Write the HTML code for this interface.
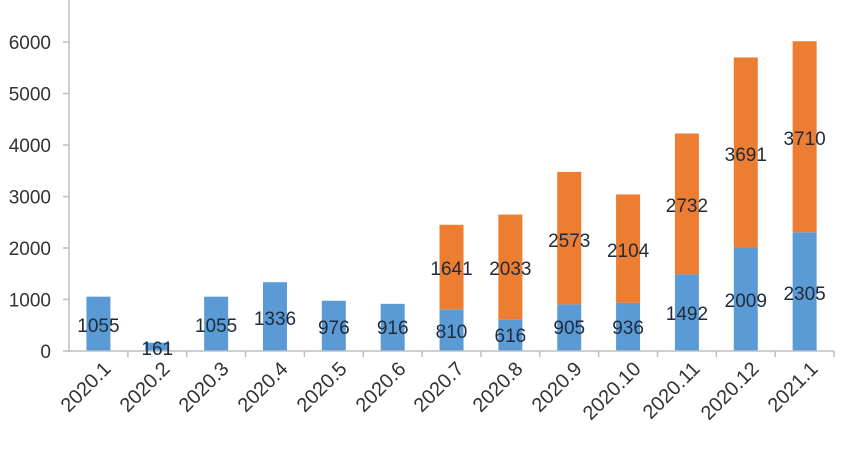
<!DOCTYPE html>
<html><head><meta charset="utf-8"><style>html,body{margin:0;padding:0;background:#fff}svg{display:block}</style></head>
<body>
<svg width="852" height="451" xmlns="http://www.w3.org/2000/svg" font-family="Liberation Sans, sans-serif">
<rect width="852" height="451" fill="#fff"/>
<g fill="#5b9bd5">
<rect x="86.43" y="296.67" width="24" height="54.33"/>
<rect x="145.28" y="342.71" width="24" height="8.29"/>
<rect x="204.13" y="296.67" width="24" height="54.33"/>
<rect x="262.98" y="282.2" width="24" height="68.8"/>
<rect x="321.83" y="300.74" width="24" height="50.26"/>
<rect x="380.68" y="303.83" width="24" height="47.17"/>
<rect x="439.53" y="309.28" width="24" height="41.72"/>
<rect x="498.38" y="319.28" width="24" height="31.72"/>
<rect x="557.23" y="304.39" width="24" height="46.61"/>
<rect x="616.08" y="302.8" width="24" height="48.2"/>
<rect x="674.93" y="274.16" width="24" height="76.84"/>
<rect x="733.78" y="247.54" width="24" height="103.46"/>
<rect x="792.63" y="232.29" width="24" height="118.71"/>
</g>
<g fill="#ed7d31">
<rect x="439.53" y="224.77" width="24" height="84.51"/>
<rect x="498.38" y="214.58" width="24" height="104.7"/>
<rect x="557.23" y="171.88" width="24" height="132.51"/>
<rect x="616.08" y="194.44" width="24" height="108.36"/>
<rect x="674.93" y="133.46" width="24" height="140.7"/>
<rect x="733.78" y="57.45" width="24" height="190.09"/>
<rect x="792.63" y="41.22" width="24" height="191.07"/>
</g>
<g stroke="#bfbfbf" stroke-width="1.5">
<line x1="69" y1="0" x2="69" y2="352"/>
<line x1="69" y1="351" x2="834" y2="351"/>
<line x1="63" y1="42" x2="69" y2="42"/><line x1="63" y1="93.5" x2="69" y2="93.5"/><line x1="63" y1="145" x2="69" y2="145"/><line x1="63" y1="196.5" x2="69" y2="196.5"/><line x1="63" y1="248" x2="69" y2="248"/><line x1="63" y1="299.5" x2="69" y2="299.5"/><line x1="63" y1="351" x2="69" y2="351"/>
<line x1="127.85" y1="351" x2="127.85" y2="357"/><line x1="186.7" y1="351" x2="186.7" y2="357"/><line x1="245.55" y1="351" x2="245.55" y2="357"/><line x1="304.4" y1="351" x2="304.4" y2="357"/><line x1="363.25" y1="351" x2="363.25" y2="357"/><line x1="422.1" y1="351" x2="422.1" y2="357"/><line x1="480.95" y1="351" x2="480.95" y2="357"/><line x1="539.8" y1="351" x2="539.8" y2="357"/><line x1="598.65" y1="351" x2="598.65" y2="357"/><line x1="657.5" y1="351" x2="657.5" y2="357"/><line x1="716.35" y1="351" x2="716.35" y2="357"/><line x1="775.2" y1="351" x2="775.2" y2="357"/><line x1="834" y1="351" x2="834" y2="357"/>
</g>
<g font-size="19" fill="#333" text-anchor="end">
<text x="51" y="49">6000</text><text x="51" y="100.5">5000</text><text x="51" y="152">4000</text><text x="51" y="203.5">3000</text><text x="51" y="255">2000</text><text x="51" y="306.5">1000</text><text x="51" y="358">0</text>
</g>
<g font-size="19" fill="#1f2a3a" text-anchor="middle">
<text x="98.43" y="332">1055</text>
<text x="157.28" y="355">161</text>
<text x="216.13" y="332">1055</text>
<text x="274.98" y="325">1336</text>
<text x="333.83" y="334">976</text>
<text x="392.68" y="334">916</text>
<text x="451.53" y="338">810</text>
<text x="510.38" y="342">616</text>
<text x="569.23" y="334">905</text>
<text x="628.08" y="334">936</text>
<text x="686.93" y="320">1492</text>
<text x="745.78" y="307">2009</text>
<text x="804.63" y="300">2305</text>
<text x="451.53" y="275">1641</text>
<text x="510.38" y="275">2033</text>
<text x="569.23" y="247">2573</text>
<text x="628.08" y="257">2104</text>
<text x="686.93" y="212">2732</text>
<text x="745.78" y="161">3691</text>
<text x="804.63" y="145">3710</text>
</g>
<g font-size="20" fill="#333" text-anchor="end">
<text transform="translate(112,370) rotate(-45)">2020.1</text>
<text transform="translate(171,370) rotate(-45)">2020.2</text>
<text transform="translate(230,370) rotate(-45)">2020.3</text>
<text transform="translate(289,370) rotate(-45)">2020.4</text>
<text transform="translate(348,370) rotate(-45)">2020.5</text>
<text transform="translate(407,370) rotate(-45)">2020.6</text>
<text transform="translate(465,370) rotate(-45)">2020.7</text>
<text transform="translate(524,370) rotate(-45)">2020.8</text>
<text transform="translate(583,370) rotate(-45)">2020.9</text>
<text transform="translate(642,370) rotate(-45)">2020.10</text>
<text transform="translate(701,370) rotate(-45)">2020.11</text>
<text transform="translate(760,370) rotate(-45)">2020.12</text>
<text transform="translate(819,370) rotate(-45)">2021.1</text>
</g>
</svg>
</body></html>
